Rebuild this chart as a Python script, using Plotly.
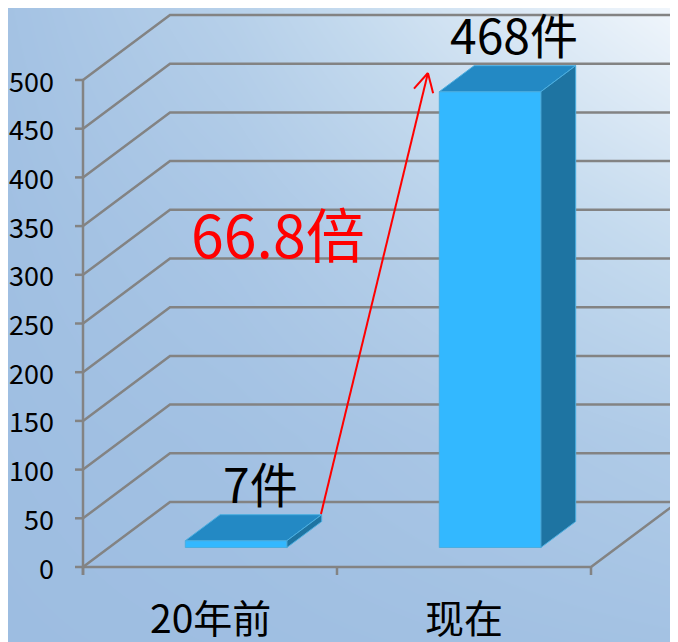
import numpy as np
import plotly.graph_objects as go

categories = ['20年前', '现在']
counts = [7, 468]
count_labels = ['7件', '468件']
y_ticks = [0, 50, 100, 150, 200, 250, 300, 350, 400, 450, 500]
ratio_label = '66.8倍'

# fake 3d: depth offset of the back wall, in axis units
PX_X, PX_Y = 254.0, 0.974      # pixels per axis unit
DX, DY = 87 / PX_X, 65 / PX_Y
F0, F1 = 0.30, 0.70            # bar front / back as fraction of depth
BW = 0.4
FONT = 'Noto Sans CJK SC'
PAD = 8                        # page body margin

x_range = [-0.5 - (83 - PAD) / PX_X, -0.5 + (678 + PAD - 83) / PX_X]
y_range = [-(642 + PAD - 567) / PX_Y, (567 - PAD) / PX_Y]

fig = go.Figure()

# background gradient
bg_z = [[0.00, 0.02, 0.05, 0.08],
        [0.02, 0.07, 0.16, 0.26],
        [0.05, 0.17, 0.38, 0.58],
        [0.09, 0.33, 0.68, 1.00]]
fig.add_trace(go.Heatmap(
  z=bg_z,
  x=np.linspace(x_range[0], x_range[1], 4),
  y=np.linspace(y_range[0], y_range[1], 4),
  zsmooth='best', showscale=False, hoverinfo='skip',
  colorscale=[[0, '#9DBDE1'], [0.5, '#C4DAEE'], [1, '#F2F7FC']],
))

# walls, floor, axis and ticks
gx, gy = [], []
for v in y_ticks:
  gx += [-0.5, -0.5 + DX, 1.5 + DX, None]
  gy += [v, v + DY, v + DY, None]
  gx += [-0.5 - 8 / PX_X, -0.5, None]
  gy += [v, v, None]
gx += [-0.5, 1.5, 1.5 + DX, None]
gy += [0, 0, DY, None]
gx += [-0.5, -0.5, None]
gy += [-8 / PX_Y, y_ticks[-1], None]
for i in range(len(categories) + 1):
  gx += [-0.5 + i, -0.5 + i, None]
  gy += [0, -8 / PX_Y, None]
fig.add_trace(go.Scatter(x=gx, y=gy, mode='lines', hoverinfo='skip',
                         line=dict(color='#838383', width=2.5)))

# bars
bx, by = (F1 - F0) * DX, (F1 - F0) * DY
for i, v in enumerate(counts):
  xl = i - BW / 2 + F0 * DX
  xr = xl + BW
  b = F0 * DY
  t = b + v
  faces = [
    ([xl, xr, xr, xl, xl], [b, b, t, t, b], '#33B8FF'),
    ([xl, xr, xr + bx, xl + bx, xl], [t, t, t + by, t + by, t], '#2389C4'),
    ([xr, xr + bx, xr + bx, xr, xr], [b, b + by, t + by, t, b], '#1E74A2'),
  ]
  for fx, fy, col in faces:
    fig.add_trace(go.Scatter(x=fx, y=fy, mode='lines', fill='toself',
                             fillcolor=col, hoverinfo='skip',
                             line=dict(color='#4BAEE0', width=1)))
  fig.add_annotation(x=i + 0.58 * DX, y=t + by - 4, text=count_labels[i],
                     showarrow=False, yanchor='bottom',
                     font=dict(family=FONT, size=48, color='black'))

# tick labels
for v in y_ticks:
  fig.add_annotation(x=-0.5 - 27 / PX_X, y=v, text=str(v), showarrow=False,
                     xanchor='right', yanchor='middle',
                     font=dict(family=FONT, size=27, color='black'))
for i, c in enumerate(categories):
  fig.add_annotation(x=i, y=-20, text=c, showarrow=False, yanchor='top',
                     font=dict(family=FONT, size=39, color='black'))

# growth arrow
tail = np.array([0.437, 54.4])
tip = np.array([0.858, 507.2])
scale = np.array([PX_X, PX_Y])
d = (tail - tip) * scale
d = d / np.hypot(*d)
ax_x, ax_y = [tail[0], tip[0], None], [tail[1], tip[1], None]
for ang in (np.radians(28), np.radians(-28)):
  rot = np.array([d[0] * np.cos(ang) - d[1] * np.sin(ang),
                  d[0] * np.sin(ang) + d[1] * np.cos(ang)])
  arm = tip + rot * 21 / scale
  ax_x += [tip[0], arm[0], None]
  ax_y += [tip[1], arm[1], None]
fig.add_trace(go.Scatter(x=ax_x, y=ax_y, mode='lines', hoverinfo='skip',
                         line=dict(color='#FF0000', width=2)))

fig.add_annotation(x=(278 - 83) / PX_X - 0.5, y=(567 - 232) / PX_Y,
                   text=ratio_label, showarrow=False,
                   font=dict(family=FONT, size=59, color='#FF0000'))

fig.update_xaxes(range=x_range, visible=False, fixedrange=True)
fig.update_yaxes(range=y_range, visible=False, fixedrange=True)
fig.update_layout(
  width=678, height=642,
  margin=dict(l=0, r=0, t=0, b=0),
  showlegend=False,
  paper_bgcolor='#A3C3E5',
  plot_bgcolor='#A3C3E5',
)
fig.write_html('out.html')
